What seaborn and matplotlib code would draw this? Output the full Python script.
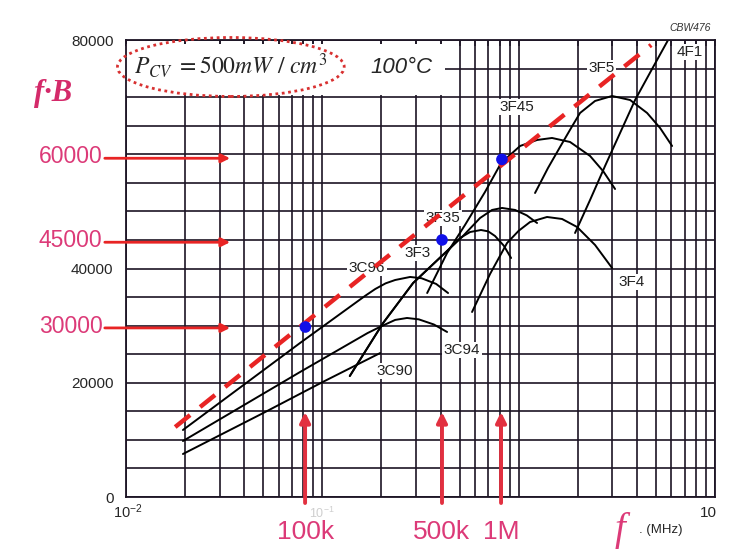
import numpy as np
import pandas as pd
import matplotlib
matplotlib.use('Agg')
import matplotlib.pyplot as plt
from matplotlib.patches import Ellipse, Rectangle
from matplotlib.ticker import MultipleLocator, FuncFormatter, NullFormatter
import seaborn as sns

sns.set_style('white')
plt.rcParams['font.family'] = ['Liberation Sans', 'DejaVu Sans']
plt.rcParams['mathtext.fontset'] = 'stix'

#%% DATA: f (MHz) vs f*B at Pv = 500 mW/cm3, 100 C
f_3c90 = [0.0195, 0.05, 0.10, 0.197]
fb_3c90 = [7530, 14700, 20100, 25200]

f_3c94 = [0.0195, 0.077, 0.17, 0.20, 0.235, 0.27, 0.31, 0.37, 0.432]
fb_3c94 = [9800, 21880, 28700, 29900, 31000, 31340, 31100, 30200, 28890]

f_3c96 = [0.0195, 0.077, 0.165, 0.186, 0.21, 0.235, 0.280, 0.32, 0.38, 0.437]
fb_3c96 = [11730, 26960, 35200, 36410, 37400, 37990, 38520, 38300, 37300, 35710]

f_3f3 = [0.138, 0.204, 0.290, 0.432, 0.503, 0.566, 0.643, 0.70, 0.758, 0.84, 0.915]
fb_3f3 = [21180, 30460, 37460, 43070, 45340, 46390, 46740, 46500, 45690, 44000, 41840]

f_3f35 = [0.138, 0.204, 0.290, 0.432, 0.515, 0.636, 0.732, 0.823, 0.959, 1.10, 1.241]
fb_3f35 = [21180, 30460, 37460, 43070, 45520, 48840, 50250, 50600, 50250, 49300, 47970]

f_3f45 = [0.342, 0.432, 0.533, 0.674, 0.814, 1.017, 1.241, 1.479, 1.827, 2.311, 2.70, 3.098]
fb_3f45 = [35710, 42720, 47620, 53400, 58470, 61450, 62500, 62850, 62150, 59700, 57000, 53920]

f_3f4 = [0.579, 0.715, 0.873, 1.00, 1.143, 1.395, 1.664, 1.984, 2.450, 2.991]
fb_3f4 = [32390, 39040, 44470, 46600, 48140, 49020, 48670, 47270, 44120, 40090]

f_3f5 = [1.212, 1.411, 1.625, 1.85, 2.055, 2.450, 2.991, 3.694, 4.510, 5.253, 6.047]
fb_3f5 = [53220, 57600, 61270, 64600, 67230, 69330, 70200, 69500, 67230, 64600, 61450]

f_4f1 = [1.938, 2.311, 2.755, 3.286, 3.918, 4.782, 5.770]
fb_4f1 = [46220, 52000, 57950, 63730, 69500, 74930, 80000]

# red dashed limit line and the blue operating points
f_limit = [0.0178, 4.73]
fb_limit = [12250, 79130]
f_op = [0.082, 0.407, 0.822]
fb_op = [29760, 45000, 59100]

# annotation arrows
fb_marks = [59300, 44600, 29600]
fb_mark_labels = ['60000', '45000', '30000']
f_marks = [0.0817, 0.407, 0.8135]
f_mark_labels = ['100k', '500k', '1M']

yticks_shown = [0, 20000, 40000, 80000]

#%% build long table
curves = {'3C90': (f_3c90, fb_3c90), '3C94': (f_3c94, fb_3c94), '3C96': (f_3c96, fb_3c96),
          '3F3': (f_3f3, fb_3f3), '3F35': (f_3f35, fb_3f35), '3F45': (f_3f45, fb_3f45),
          '3F4': (f_3f4, fb_3f4), '3F5': (f_3f5, fb_3f5), '4F1': (f_4f1, fb_4f1)}
rows = []
for name, (fs, fbs) in curves.items():
    for i, (f, fb) in enumerate(zip(fs, fbs)):
        rows.append({'material': name, 'order': i, 'f': f, 'fB': fb})
df = pd.DataFrame(rows)

# label spots (data coords)
label_pos = {'3C96': (0.169, 40090), '3F3': (0.307, 42720), '3F35': (0.412, 48840),
             '3F45': (0.981, 68280), '3F5': (2.63, 75100), '4F1': (7.47, 77900),
             '3F4': (3.78, 37640), '3C94': (0.515, 25740), '3C90': (0.2346, 22060)}

pink = '#dc3a78'
red = '#e82424'
gridc = '#1c1424'

#%% PLOT
fig = plt.figure(figsize=(7.5, 5.58), dpi=100)
ax = fig.add_axes([0.168, 0.1093, 0.7853, 0.819])

sns.lineplot(data=df, x='f', y='fB', units='material', estimator=None, sort=False,
             color='black', lw=1.4, ax=ax, zorder=2)
sns.lineplot(x=f_limit, y=fb_limit, color=red, lw=3.2, ax=ax, zorder=4,
             linestyle=(0, (4.3, 2.9)))
sns.scatterplot(x=f_op, y=fb_op, color='#1010e8', s=70, edgecolor='none', ax=ax, zorder=5)

ax.set_xscale('log')
ax.set_xlim(0.01, 10)
ax.set_ylim(0, 80000)
ax.set_xlabel('')
ax.set_ylabel('')

ax.yaxis.set_major_locator(MultipleLocator(5000))
ax.yaxis.set_major_formatter(FuncFormatter(lambda v, p: '{:d}'.format(int(v)) if int(v) in yticks_shown else ''))
ax.xaxis.set_major_formatter(NullFormatter())
ax.xaxis.set_minor_formatter(NullFormatter())
ax.tick_params(axis='y', length=0, pad=9, labelsize=11)
ax.tick_params(axis='x', which='both', top=True, bottom=False, direction='in', length=4,
               color=gridc, width=1.1)
ax.grid(True, which='both', axis='x', color=gridc, lw=1.2)
ax.grid(True, which='major', axis='y', color=gridc, lw=1.2)
for s in ax.spines.values():
    s.set_color(gridc)
    s.set_linewidth(1.3)

# white strip behind the title text
ax.add_patch(Rectangle((0, 0.8796), 0.5416, 0.1116, transform=ax.transAxes,
                       facecolor='white', edgecolor='none', zorder=1))
ax.add_patch(Ellipse((0.178, 0.941), 0.385, 0.129, transform=ax.transAxes, fill=False,
                     edgecolor='#d83030', lw=2, linestyle=(0, (1, 1.3)), clip_on=False, zorder=6))
ax.text(0.178, 0.945, r'$P_{CV}\ =500mW\ /\ cm^{3}$', transform=ax.transAxes,
        ha='center', va='center', fontsize=17, zorder=6)
ax.text(0.467, 0.939, '100°C', transform=ax.transAxes, ha='center', va='center',
        fontsize=16, style='italic', zorder=6)

for name, (x, y) in label_pos.items():
    ax.text(x, y, name, ha='center', va='center', fontsize=11, color='#222222', zorder=3,
            bbox=dict(facecolor='white', edgecolor='none', pad=1))

# horizontal arrows from the left labels
for y, lab in zip(fb_marks, fb_mark_labels):
    ax.annotate('', xy=(0.0339, y), xytext=(0.0078, y), annotation_clip=False,
                arrowprops=dict(arrowstyle='-|>', color=red, lw=2, mutation_scale=13,
                                shrinkA=0, shrinkB=0), zorder=6)
    ax.text(0.0076, y + 300, lab, ha='right', va='center', fontsize=16.5, color=pink)

# vertical arrows from the bottom labels
ax.text(0.1, -1600, r'$\mathregular{10^{-1}}$', ha='center', va='top', fontsize=9, color='#cfcfcf')
for x, lab in zip(f_marks, f_mark_labels):
    ax.annotate('', xy=(x, 14880), xytext=(x, -1050), annotation_clip=False,
                arrowprops=dict(arrowstyle='-|>', color='#e23040', lw=2.8, mutation_scale=15,
                                shrinkA=0, shrinkB=0), zorder=6)
    ax.text(x, -6130, lab, ha='center', va='center', fontsize=19, color=pink)

fig.text(0.0707, 0.8333, 'f·B', ha='center', va='center', fontsize=22, color='#d42a6a',
         family=['Liberation Serif', 'DejaVu Serif'], style='italic', weight='bold')
fig.text(0.1707, 0.0824, r'$\mathregular{10^{-2}}$', ha='center', va='center', fontsize=10.5)
fig.text(0.944, 0.0806, '10', ha='center', va='center', fontsize=11)
fig.text(0.8267, 0.050, 'f', ha='center', va='center', fontsize=28, color=pink,
         family=['Liberation Serif', 'DejaVu Serif'], style='italic')
fig.text(0.852, 0.050, '. (MHz)', ha='left', va='center', fontsize=9.5)
fig.text(0.92, 0.9498, 'CBW476', ha='center', va='center', fontsize=7.5, style='italic', color='#333333')

fig.savefig('out.png', dpi=100)
